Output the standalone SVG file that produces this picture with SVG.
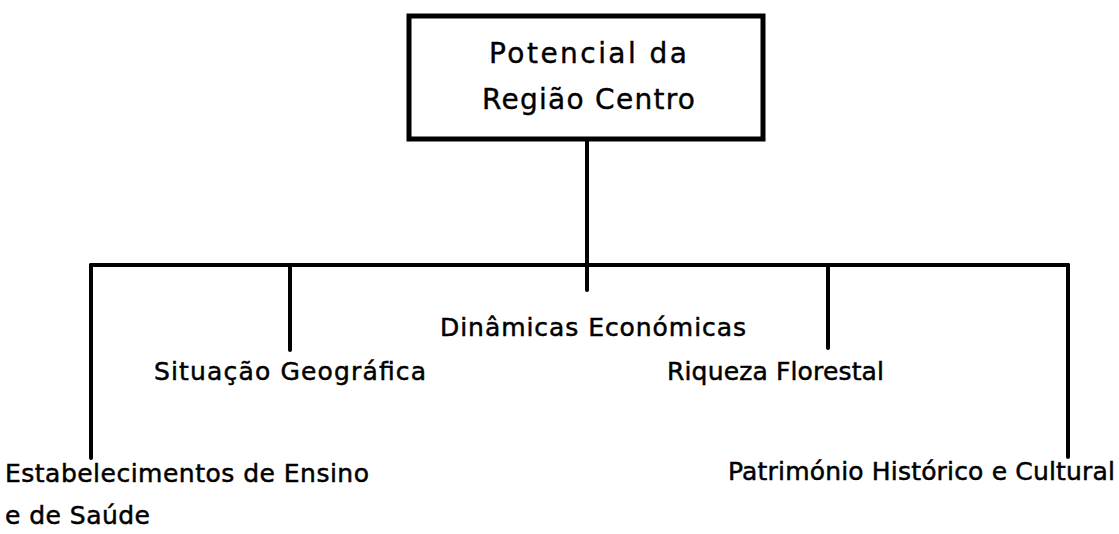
<svg xmlns="http://www.w3.org/2000/svg" width="1119" height="534" viewBox="0 0 1119 534">
<style>
  .box { fill: #ffffff; stroke: #000000; stroke-width: 5; }
  .conn { stroke: #000000; stroke-width: 4; fill: none; stroke-linecap: round; }
  .lbl { font-family: "DejaVu Sans", "Liberation Sans", sans-serif; font-size: 25px; fill: #000000; stroke: #000000; stroke-width: 0.5; }
  .ttl { font-family: "DejaVu Sans", "Liberation Sans", sans-serif; font-size: 28px; fill: #000000; stroke: #000000; stroke-width: 0.4; }
</style>
<rect x="0" y="0" width="1119" height="534" fill="#ffffff"/>
<g id="connectors">
  <line class="conn" x1="587" y1="139" x2="587" y2="290"/>
  <line class="conn" x1="91" y1="265" x2="1068" y2="265"/>
  <line class="conn" x1="91" y1="265" x2="91" y2="458"/>
  <line class="conn" x1="290" y1="265" x2="290" y2="350"/>
  <line class="conn" x1="828" y1="265" x2="828" y2="348"/>
  <line class="conn" x1="1068" y1="265" x2="1068" y2="457"/>
</g>
<g id="node-root">
  <rect class="box" x="409" y="16" width="354" height="123"/>
  <text class="ttl" x="489" y="63" textLength="198" lengthAdjust="spacing">Potencial da</text>
  <text class="ttl" x="482" y="109" textLength="213" lengthAdjust="spacing">Região Centro</text>
</g>
<g id="node-dinamicas">
  <text class="lbl" x="440" y="336" textLength="306" lengthAdjust="spacing">Dinâmicas Económicas</text>
</g>
<g id="node-situacao">
  <text class="lbl" x="154" y="380" textLength="272" lengthAdjust="spacing">Situação Geográfica</text>
</g>
<g id="node-riqueza">
  <text class="lbl" x="667" y="380" textLength="217" lengthAdjust="spacing">Riqueza Florestal</text>
</g>
<g id="node-ensino">
  <text class="lbl" x="5" y="482" textLength="364" lengthAdjust="spacing">Estabelecimentos de Ensino</text>
  <text class="lbl" x="5" y="524" textLength="145" lengthAdjust="spacing">e de Saúde</text>
</g>
<g id="node-patrimonio">
  <text class="lbl" x="728" y="480" textLength="387" lengthAdjust="spacing">Património Histórico e Cultural</text>
</g>
</svg>
